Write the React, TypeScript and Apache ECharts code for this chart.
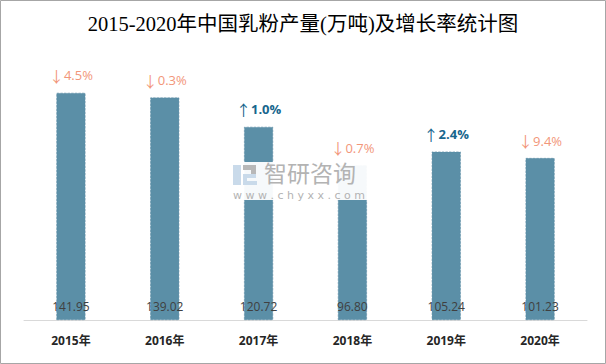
import React, { useEffect, useRef } from "react";
import * as echarts from "echarts";

const categories = ["2015年", "2016年", "2017年", "2018年", "2019年", "2020年"];
const output = [141.95, 139.02, 120.72, 96.8, 105.24, 101.23];
const growth = [-4.5, -0.3, 1.0, -0.7, 2.4, -9.4];

const siteText = "www.chyxx.com";

export default function App() {
  const ref = useRef<HTMLDivElement>(null);
  useEffect(() => {
    document.body.style.margin = "0";
    const chart = echarts.init(ref.current!, null, { renderer: "svg" });
    const wmZ = 101;
    const option: any = {
      animation: false,
      backgroundColor: "#ffffff",
      title: {
        text: "2015-2020年中国乳粉产量(万吨)及增长率统计图",
        left: "center",
        top: 9,
        textStyle: {
          fontFamily: "Liberation Serif, Noto Sans CJK SC, serif",
          fontSize: 20.5,
          fontWeight: "normal",
          color: "#000000",
        },
      },
      grid: { left: 24, right: 19, top: 64, bottom: 44 },
      xAxis: {
        type: "category",
        data: categories,
        axisLine: { lineStyle: { color: "#d9d9d9", width: 1 } },
        axisTick: { show: false },
        axisLabel: {
          margin: 14,
          color: "#262626",
          fontWeight: "bold",
          fontSize: 12,
          fontFamily: "Open Sans, Noto Sans CJK SC, sans-serif",
        },
      },
      yAxis: { type: "value", min: 0, max: 160, show: false, splitLine: { show: false } },
      series: [
        {
          type: "bar",
          data: output,
          barWidth: 29,
          itemStyle: { color: "#5B8FA7", borderColor: "#5a8ca4", borderWidth: 0.6, borderType: "dashed" },
          label: {
            show: true,
            position: "insideBottom",
            distance: 8,
            color: "#404040",
            fontSize: 12,
            fontFamily: "Open Sans, sans-serif",
            formatter: (p: any) => output[p.dataIndex].toFixed(2),
          },
          z: 2,
        },
        {
          type: "bar",
          data: output,
          barWidth: 29,
          barGap: "-100%",
          itemStyle: { color: "rgba(0,0,0,0)" },
          label: {
            show: true,
            position: "top",
            distance: 10,
            formatter: (p: any) => {
              const g = growth[p.dataIndex];
              const s = Math.abs(g).toFixed(1) + "%";
              return g >= 0 ? "{upa|↑}{up|" + s + "}" : "{downa|↓}{down|" + s + "}";
            },
            rich: {
              upa: { color: "#17668d", fontSize: 15, fontFamily: "Noto Sans CJK SC, sans-serif" },
              up: { color: "#17668d", fontWeight: "bold", fontSize: 13, fontFamily: "Open Sans, sans-serif" },
              downa: { color: "#f2967a", fontSize: 15, fontFamily: "Noto Sans CJK SC, sans-serif" },
              down: { color: "#f2967a", fontSize: 13, fontFamily: "Open Sans, sans-serif" },
            },
          },
          z: 3,
        },
      ],
      graphic: [
        {
          type: "rect",
          z: 100,
          shape: { x: 0.5, y: 0.5, width: 605, height: 363 },
          style: { fill: "none", stroke: "#a6a6a6", lineWidth: 1 },
        },
        {
          type: "group",
          x: 230,
          y: 162,
          z: 100,
          children: [
            { type: "rect", z: wmZ, shape: { x: 0, y: 0, width: 146, height: 38 }, style: { fill: "#ffffff", opacity: 0.95 } },
            { type: "rect", z: wmZ, shape: { x: 3, y: 3, width: 8, height: 20 }, style: { fill: "#c9daea" } },
            { type: "rect", z: wmZ, shape: { x: 13, y: 3, width: 13, height: 5 }, style: { fill: "#b8b8b8" } },
            { type: "rect", z: wmZ, shape: { x: 21, y: 8, width: 5, height: 6 }, style: { fill: "#b8b8b8" } },
            { type: "rect", z: wmZ, shape: { x: 13, y: 12, width: 13, height: 4 }, style: { fill: "#c9daea" } },
            { type: "rect", z: wmZ, shape: { x: 13, y: 16, width: 4, height: 4 }, style: { fill: "#c9daea" } },
            { type: "rect", z: wmZ, shape: { x: 13, y: 19, width: 14, height: 4 }, style: { fill: "#c9daea" } },
            {
              type: "text",
              z: wmZ,
              x: 34,
              y: 0,
              style: {
                text: "智研咨询",
                fill: "#b3b3b3",
                fontSize: 23,
                lineHeight: 23,
                fontFamily: "Liberation Sans, Noto Sans CJK SC, sans-serif",
              },
            },
            {
              type: "text",
              z: wmZ,
              x: 3,
              y: 28,
              style: {
                text: siteText.split("").join(" "),
                fill: "#b3b3b3",
                fontSize: 11,
                lineHeight: 11,
                fontFamily: "DejaVu Sans, sans-serif",
              },
            },
          ],
        },
      ],
    };
    chart.setOption(option);
    return () => chart.dispose();
  }, []);
  return <div ref={ref} style={{ width: 606, height: 364 }} />;
}
